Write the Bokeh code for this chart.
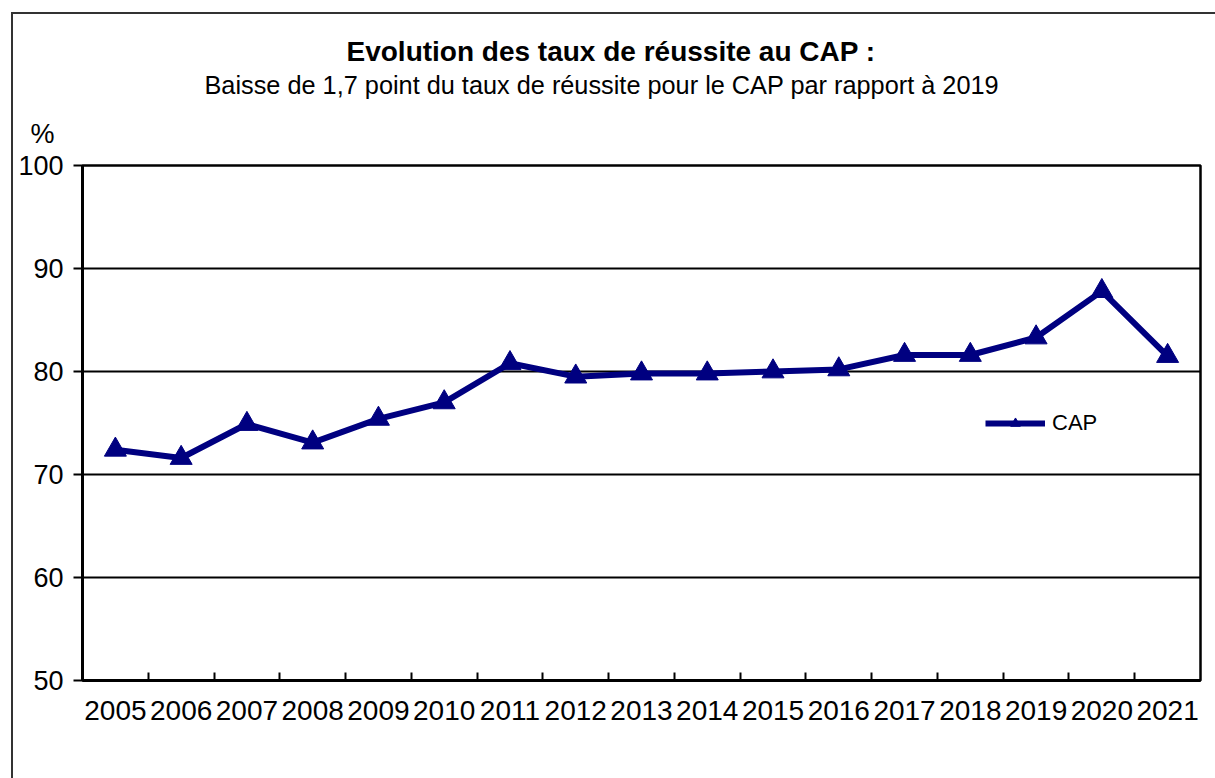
from bokeh.plotting import figure
from bokeh.models import (Range1d, FixedTicker, Legend, LegendItem, Title)
from bokeh.embed import file_html
from bokeh.resources import INLINE

years = ["2005", "2006", "2007", "2008", "2009", "2010", "2011", "2012", "2013",
         "2014", "2015", "2016", "2017", "2018", "2019", "2020", "2021"]
cap = [72.4, 71.6, 74.9, 73.1, 75.4, 77.0, 80.8, 79.5, 79.8,
       79.8, 80.0, 80.2, 81.6, 81.6, 83.3, 87.8, 81.5]
y_ticks = [50, 60, 70, 80, 90, 100]

title_text = "Evolution des taux de réussite au CAP :"
subtitle_text = "Baisse de 1,7 point du taux de réussite pour le CAP par rapport à 2019"
unit_text = "%"
series_name = "CAP"

FONT = "Liberation Sans"
NAVY = "#000080"

xs = list(range(len(years)))

p = figure(width=1215, height=778, output_backend="svg", toolbar_location=None,
           x_range=Range1d(-0.5, len(years) - 0.5), y_range=Range1d(50, 100),
           min_border_left=82, min_border_top=165, min_border_right=15,
           min_border_bottom=98)
p.styles = {"box-shadow": "inset 11px 12px 0 0 white, inset 13px 14px 0 0 #333"}

p.background_fill_color = "white"
p.border_fill_color = None
p.outline_line_color = "black"
p.outline_line_width = 2.5
p.outline_line_alpha = 1.0

# x axis
xa = p.xaxis[0]
xa.ticker = FixedTicker(ticks=xs, minor_ticks=[i + 0.5 for i in xs[:-1]])
xa.major_label_overrides = {i: y for i, y in zip(xs, years)}
xa.major_tick_in = 0
xa.major_tick_out = 0
xa.minor_tick_in = 8
xa.minor_tick_out = 0
xa.minor_tick_line_color = "black"
xa.minor_tick_line_width = 2
xa.axis_line_color = "black"
xa.axis_line_width = 3
xa.major_label_text_font = FONT
xa.major_label_text_font_size = "28px"
xa.major_label_text_color = "black"
xa.major_label_standoff = 20

# y axis
ya = p.yaxis[0]
ya.ticker = FixedTicker(ticks=y_ticks)
ya.major_tick_in = 0
ya.major_tick_out = 9
ya.major_tick_line_color = "black"
ya.major_tick_line_width = 2
ya.minor_tick_line_color = None
ya.axis_line_color = "black"
ya.axis_line_width = 3
ya.major_label_text_font = FONT
ya.major_label_text_font_size = "27px"
ya.major_label_text_color = "black"
ya.major_label_standoff = 10

p.xgrid.visible = False
p.ygrid.ticker = FixedTicker(ticks=y_ticks)
p.ygrid.grid_line_color = "black"
p.ygrid.grid_line_width = 2

line_r = p.line(xs, cap, line_color=NAVY, line_width=6, line_join="round")
pts_r = p.scatter(xs, cap, marker="triangle", size=22, fill_color=NAVY,
                  line_color=NAVY)

legend = Legend(items=[LegendItem(label=series_name, renderers=[line_r, pts_r])],
                location=(903, 244), glyph_width=60, glyph_height=24,
                label_standoff=7, padding=0, margin=0, spacing=0,
                border_line_alpha=0, background_fill_alpha=0,
                label_text_font=FONT, label_text_font_size="22px",
                label_text_color="black")
p.add_layout(legend)

# titles: first added is nearest to the frame
p.add_layout(Title(text=unit_text, align="left", offset=-52, standoff=33,
                   text_font=FONT, text_font_size="27px", text_font_style="normal",
                   text_color="black"), "above")
p.add_layout(Title(text=subtitle_text, align="left", offset=122, standoff=3,
                   text_font=FONT, text_font_size="25.3px", text_font_style="normal",
                   text_color="black"), "above")
p.add_layout(Title(text=title_text, align="left", offset=264, standoff=2,
                   text_font=FONT, text_font_size="28px", text_font_style="bold",
                   text_color="black"), "above")

open("out.html", "w").write(file_html(p, INLINE))
